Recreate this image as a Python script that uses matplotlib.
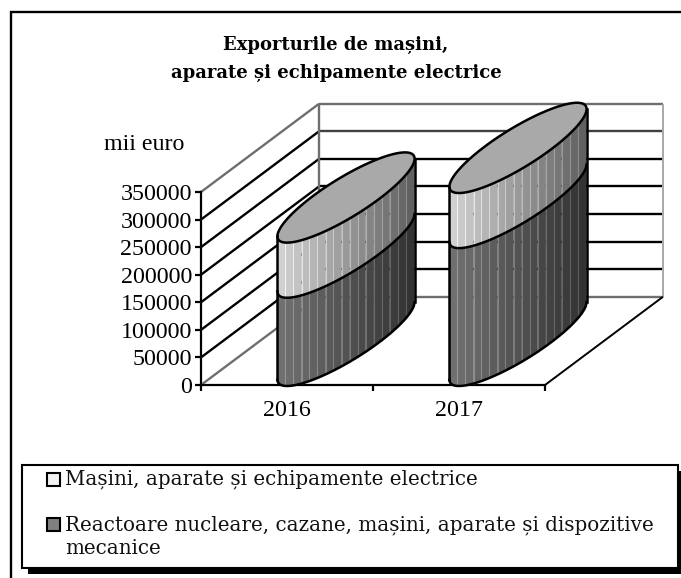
#!/usr/bin/env python3
"""Exports chart: stacked oblique 3D cylinders, drawn on a plain 2D axes."""

import numpy as np
import matplotlib.pyplot as plt
from matplotlib.patches import Polygon, Rectangle

W, H = 681, 578

# ---------------------------------------------------------------------------
# Data
# ---------------------------------------------------------------------------
years = ['2016', '2017']
reactoare = [160000, 250000]
masini = [100000, 100000]
y_ticks = [0, 50000, 100000, 150000, 200000, 250000, 300000, 350000]
title = 'Exporturile de mașini,\naparate și echipamente electrice'
y_title = 'mii euro'
legend_masini = 'Mașini, aparate și echipamente electrice'
legend_reactoare = ('Reactoare nucleare, cazane, mașini, aparate și dispozitive\n'
                    'mecanice')

SERIF = 'Liberation Serif'
LEG_FONT = 'DejaVu Serif'

fig = plt.figure(figsize=(W / 100, H / 100), dpi=100, facecolor='white')


def px_rect(x0, y0, x1, y1):
    return [x0 / W, 1 - y1 / H, (x1 - x0) / W, (y1 - y0) / H]


# page level axes in pixels, for frames and legend
page = fig.add_axes([0, 0, 1, 1])
page.set_xlim(0, W)
page.set_ylim(H, 0)
page.axis('off')
page.plot([11, 11, W], [H, 12, 12], color='black', lw=1.7, solid_joinstyle='miter')

# ---------------------------------------------------------------------------
# Chart axes: x in categories, y in euro, front plane fills the axes
# ---------------------------------------------------------------------------
ax = fig.add_axes(px_rect(201, 192, 545, 385))
ax.patch.set_alpha(0)
ax.set_xlim(0, 2)
ax.set_ylim(0, 350000)
for s in ['top', 'right']:
    ax.spines[s].set_visible(False)
for s in ['left', 'bottom']:
    ax.spines[s].set_linewidth(1.6)
ax.set_yticks(y_ticks)
ax.set_yticklabels([str(v) for v in y_ticks], family=SERIF, fontsize=17.3)
ax.set_xticks([0, 1, 2])
ax.set_xticklabels([])
ax.set_xticks([0.5, 1.5], minor=True)
ax.set_xticklabels(years, minor=True, family=SERIF, fontsize=17.3)
ax.tick_params(axis='both', which='major', width=1.6, length=4, pad=2)
ax.tick_params(axis='y', which='major', pad=2.5)
ax.tick_params(axis='x', which='minor', length=0, pad=11)

DX = 118 / 172          # depth, category units
DY = 88 / 27.5 * 50000  # depth, euro units
GREY = '#6e6e6e'
kw = dict(clip_on=False, solid_capstyle='butt')

# walls and floor
for v in y_ticks:
    edge = v in (0, y_ticks[-1])
    c = GREY if edge else 'black'
    ax.plot([0, DX], [v, v + DY], color=c, lw=1.7, zorder=1, **kw)
    ax.plot([DX, 2 + DX], [v + DY, v + DY],
            color=GREY if edge else ('#404040' if v == 300000 else 'black'),
            lw=1.7, zorder=1, **kw)
ax.plot([DX, DX], [DY, y_ticks[-1] + DY], color=GREY, lw=1.7, zorder=1.5, **kw)
ax.plot([2 + DX, 2 + DX], [DY, y_ticks[-1] + DY], color='#a8a8a8', lw=1.4, zorder=1.5, **kw)
ax.plot([2, 2 + DX], [0, DY], color='black', lw=1.4, zorder=1.5, **kw)

# ---------------------------------------------------------------------------
# Cylinders
# ---------------------------------------------------------------------------
U = 35 / 172    # half bar width along x
VX = 59 / 172   # half depth, x part
VY = 45 / 27.5 * 50000  # half depth, y part
T0 = np.arctan2(VX, U)
N_STRIPS = 17


def edge_curve(cx, base, ts):
    xs = cx + DX / 2 + U * np.cos(ts) + VX * np.sin(ts)
    ys = base + DY / 2 + VY * np.sin(ts)
    return xs, ys


def shade(frac, left, right):
    g = left + (right - left) * frac
    return (g, g, g)


def front_ts(n=200):
    # leftmost to rightmost point on the near side, even steps in x
    r = np.hypot(U, VX)
    x = np.linspace(-r, r, n)
    return T0 + 2 * np.pi - np.arccos(x / r)


def draw_segment(cx, lo, hi, left, right, z):
    ts = front_ts()
    for i in range(N_STRIPS):
        a = i * (len(ts) - 1) // N_STRIPS
        b = (i + 1) * (len(ts) - 1) // N_STRIPS
        sub = ts[a:b + 1]
        xs, ys_lo = edge_curve(cx, lo, sub)
        _, ys_hi = edge_curve(cx, hi, sub)
        poly = np.column_stack([np.r_[xs, xs[::-1]], np.r_[ys_lo, ys_hi[::-1]]])
        frac = i / (N_STRIPS - 1)
        ax.add_patch(Polygon(poly, closed=True, facecolor=shade(frac, left, right),
                             edgecolor='none', zorder=z, clip_on=False))
        if i:
            # thin pale seam between two strips
            seam = shade(frac, left, right)
            seam = tuple(min(1, s + 0.16) for s in seam)
            ax.plot([xs[0], xs[0]], [ys_lo[0], ys_hi[0]], color=seam, lw=0.8,
                    zorder=z + 0.01, **kw)


def draw_cylinder(cx, low, high, z):
    ts = front_ts()
    draw_segment(cx, 0, low, 0.44, 0.20, z)
    draw_segment(cx, low, low + high, 0.82, 0.38, z)
    top = low + high
    # top disc
    full = np.linspace(0, 2 * np.pi, 240)
    xs, ys = edge_curve(cx, top, full)
    ax.add_patch(Polygon(np.column_stack([xs, ys]), closed=True, facecolor='#a9a9a9',
                         edgecolor='black', lw=1.8, zorder=z + 0.1, clip_on=False))
    # outline: bottom curve, sides, joint between segments
    for base in (0, low):
        xs, ys = edge_curve(cx, base, ts)
        ax.plot(xs, ys, color='black', lw=1.8, zorder=z + 0.1, clip_on=False)
    xl, yl0 = edge_curve(cx, 0, ts[:1])
    xr, yr0 = edge_curve(cx, 0, ts[-1:])
    ax.plot([xl[0], xl[0]], [yl0[0], yl0[0] + top], color='black', lw=1.8,
            zorder=z + 0.1, clip_on=False)
    ax.plot([xr[0], xr[0]], [yr0[0], yr0[0] + top], color='black', lw=1.8,
            zorder=z + 0.1, clip_on=False)


for i in range(len(years)):
    draw_cylinder(i + 0.5, reactoare[i], masini[i], 3 + i)

# ---------------------------------------------------------------------------
# Text
# ---------------------------------------------------------------------------
page.text(336, 59, title, ha='center', va='center', family='DejaVu Serif',
          fontweight='bold', fontsize=13, linespacing=1.75, color='black')
page.text(144, 144, y_title, ha='center', va='center', family=SERIF, fontsize=17.3)

# ---------------------------------------------------------------------------
# Legend
# ---------------------------------------------------------------------------
page.add_patch(Rectangle((28, 471), W - 28, 103, facecolor='black', edgecolor='none', zorder=4))
page.add_patch(Rectangle((22, 465), 656, 103, facecolor='white', edgecolor='black',
                         lw=1.5, zorder=5))
page.add_patch(Rectangle((47, 473), 13, 13, facecolor='#f2f2f2', edgecolor='black',
                         lw=1.5, zorder=6))
page.add_patch(Rectangle((47, 518), 13, 13, facecolor='#808080', edgecolor='black',
                         lw=1.5, zorder=6))
page.text(65, 479, legend_masini, ha='left', va='center', family=LEG_FONT,
          fontsize=14.3, zorder=6, color='#111111')
page.text(65, 537, legend_reactoare, ha='left', va='center', family=LEG_FONT,
          fontsize=14.3, zorder=6, color='#111111', linespacing=1.29)

fig.savefig('out.png', dpi=100, facecolor='white')
